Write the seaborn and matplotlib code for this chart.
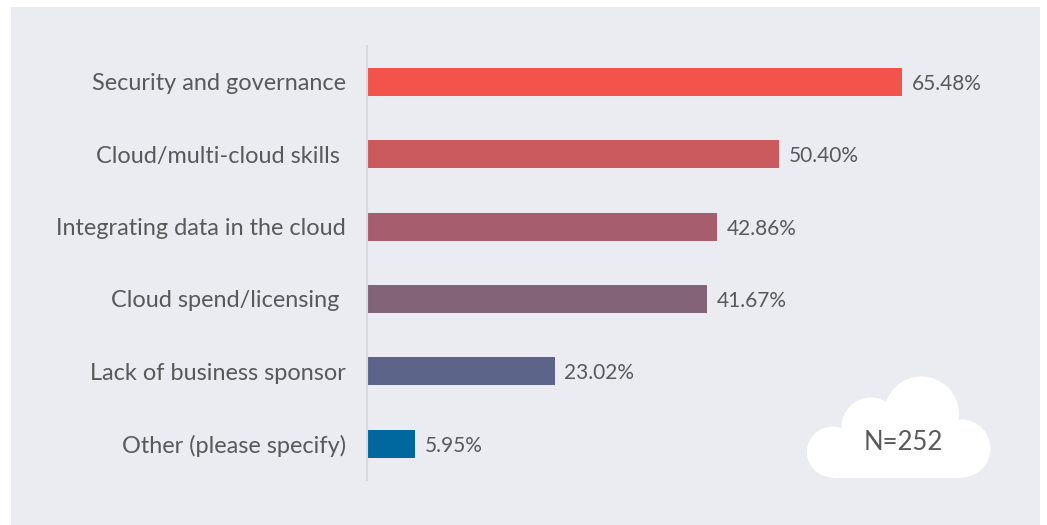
import matplotlib
matplotlib.use('Agg')
import matplotlib.pyplot as plt
from matplotlib.patches import Circle, Rectangle
import pandas as pd
import seaborn as sns

# Chart data
categories = ['Security and governance', 'Cloud/multi-cloud skills ', 'Integrating data in the cloud',
              'Cloud spend/licensing ', 'Lack of business sponsor', 'Other (please specify)']
values = [65.48, 50.40, 42.86, 41.67, 23.02, 5.95]
colors = ['#F2544C', '#CB5A5F', '#A65E6C', '#826378', '#5C6489', '#00689F']

W, H = 1047, 525
PANEL = '#EBECF1'
TEXT = '#58595B'

sns.set_theme(style='white')
plt.rcParams['font.family'] = ['Lato', 'DejaVu Sans']

df = pd.DataFrame({'category': categories, 'value': values})

fig = plt.figure(figsize=(W / 100, H / 100), dpi=100, facecolor='white')

# Grey panel and cloud live on a background axes in pixel coordinates
bg = fig.add_axes([0, 0, 1, 1], zorder=0)
bg.set_xlim(0, W)
bg.set_ylim(H, 0)
bg.axis('off')
bg.add_patch(Rectangle((11, 7), 1029, 518, color=PANEL, lw=0))

# Cloud shape
for cx, cy, r in [(832.5, 452, 25.5), (961.5, 448.5, 29), (871, 427, 29.5), (921.5, 414, 37.5)]:
    bg.add_patch(Circle((cx, cy), r, color='white', lw=0))
bg.add_patch(Rectangle((832.5, 430), 129, 47.5, color='white', lw=0))
bg.text(903, 442, 'N=252', fontsize=18.5, color=TEXT, ha='center', va='center')

# Bars
ax = fig.add_axes([366.5 / W, 1 - 480 / H, 673.5 / W, 434.5 / H], zorder=1)
ax.patch.set_alpha(0)
sns.barplot(data=df, x='value', y='category', hue='category', palette=colors,
            legend=False, width=0.386, saturation=1, linewidth=0, ax=ax)
ax.set_xlim(0, 673.5 / (535.5 / 65.48))
ax.set_ylim(5.5, -0.5)
ax.set_xlabel('')
ax.set_ylabel('')
ax.xaxis.set_visible(False)

for s in ['top', 'right', 'bottom']:
    ax.spines[s].set_visible(False)
ax.spines['left'].set_color('#D8D9DD')
ax.spines['left'].set_linewidth(1.5)

ax.tick_params(axis='y', length=0, pad=15, labelsize=16.9, labelcolor=TEXT)

for container in ax.containers:
    for label in ax.bar_label(container, fmt='%.2f%%', padding=7, fontsize=15, color=TEXT):
        # nudge value labels down a touch to sit level with the bar centre
        label.xyann = (label.xyann[0], label.xyann[1] - 1.5)

plt.savefig('out.png', dpi=100)
